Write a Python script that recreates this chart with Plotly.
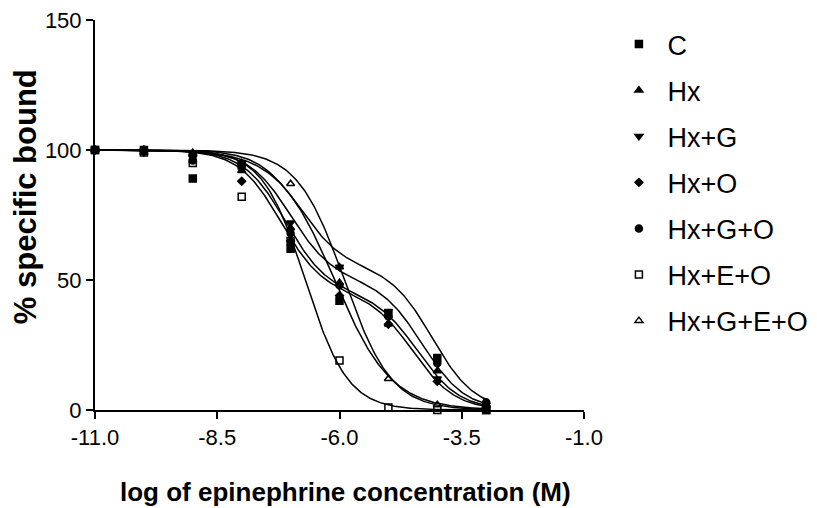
import numpy as np
import plotly.graph_objects as go

# ---- data ----
log_conc = [-11, -10, -9, -8, -7, -6, -5, -4, -3]
series_names = ["C", "Hx", "Hx+G", "Hx+O", "Hx+G+O", "Hx+E+O", "Hx+G+E+O"]
val_C = [100, 100, 89, 94, 62, 42, 37, 20, 0]
val_Hx = [100, 99, 96, 92, 70, 49, 33, 15, 2]
val_HxG = [100, 99, 97, 95, 72, 55, 38, 12, 2]
val_HxO = [100, 100, 98, 88, 65, 44, 33, 11, 1]
val_HxGO = [100, 100, 96, 94, 68, 48, 36, 18, 3]
val_HxEO = [100, 99, 95, 82, 65, 19, 1, 0, 0]
val_HxGEO = [100, 100, 99, 95, 87, 55, 12, 2, 0]
series_values = [val_C, val_Hx, val_HxG, val_HxO, val_HxGO, val_HxEO, val_HxGEO]

# fitted competition-curve parameters (two-site: fraction high, logEC50 high, logEC50 low; one-site: fraction 1)
fit_fraction = [0.45, 0.55, 1.0, 0.55, 0.5, 1.0, 1.0]
fit_ec_high = [-6.8, -7.1, -6.1, -7.2, -7.0, -6.7, -5.9]
fit_ec_low = [-4.1, -4.4, -6.1, -4.5, -4.3, -6.7, -5.9]
fit_slope = [1.0, 1.0, 0.75, 1.0, 1.0, 1.0, 0.9]

marker_symbols = ["square", "triangle-up", "triangle-down", "diamond", "circle",
                  "square-open", "triangle-up-open"]
marker_sizes = [7, 7, 7, 6, 7, 7, 7]

x_ticks = [-11.0, -8.5, -6.0, -3.5, -1.0]
x_tick_labels = ["-11.0", "-8.5", "-6.0", "-3.5", "-1.0"]
y_ticks = [0, 50, 100, 150]
x_title = "log of epinephrine concentration (M)"
y_title = "% specific bound"

fig = go.Figure()
xx = np.linspace(-11, -3, 300)
for i, name in enumerate(series_names):
    F = fit_fraction[i]
    h = fit_slope[i]
    yy = 100 * (F / (1 + 10 ** ((xx - fit_ec_high[i]) * h))
                + (1 - F) / (1 + 10 ** ((xx - fit_ec_low[i]) * h)))
    fig.add_trace(go.Scatter(x=xx, y=yy, mode="lines", showlegend=False,
                             line=dict(color="black", width=1.5),
                             cliponaxis=False, hoverinfo="skip"))
for i, name in enumerate(series_names):
    fig.add_trace(go.Scatter(x=log_conc, y=series_values[i], mode="markers", name=name,
                             legendgroup=name,
                             marker=dict(symbol=marker_symbols[i], size=marker_sizes[i],
                                         color="black", line=dict(color="black", width=1.5)),
                             cliponaxis=False))

fig.update_layout(
    width=817, height=508,
    margin=dict(l=95, r=233, t=20, b=98, autoexpand=False),
    paper_bgcolor="white", plot_bgcolor="white",
    font=dict(family="Liberation Sans, Arial, sans-serif", color="black"),
    showlegend=True,
    legend=dict(x=1.054, y=1.0, xanchor="left", yanchor="top",
                font=dict(size=27, color="black"), tracegroupgap=8,
                itemwidth=47,
                bgcolor="rgba(0,0,0,0)", itemsizing="trace"),
    xaxis=dict(range=[-11, -1], tickvals=x_ticks, ticktext=x_tick_labels,
               showgrid=False, zeroline=False, showline=True, linecolor="black",
               linewidth=2, ticks="outside", ticklen=7, tickwidth=2, tickcolor="black",
               tickfont=dict(size=22, color="black"), automargin=False),
    yaxis=dict(range=[0, 150], tickvals=y_ticks,
               showgrid=False, zeroline=False, showline=True, linecolor="black",
               linewidth=2, ticks="outside", ticklen=7, tickwidth=2, tickcolor="black",
               tickfont=dict(size=22, color="black"), automargin=False),
    annotations=[
        dict(text="<b>" + x_title + "</b>", xref="paper", yref="paper",
             x=0.512, y=-0.21, xanchor="center", yanchor="middle", showarrow=False,
             font=dict(size=26, color="black")),
        dict(text="<b>" + y_title + "</b>", xref="paper", yref="paper",
             x=-0.143, y=0.546, xanchor="center", yanchor="middle", showarrow=False,
             textangle=-90, font=dict(size=31, color="black")),
    ],
)
fig.write_html("out.html")
